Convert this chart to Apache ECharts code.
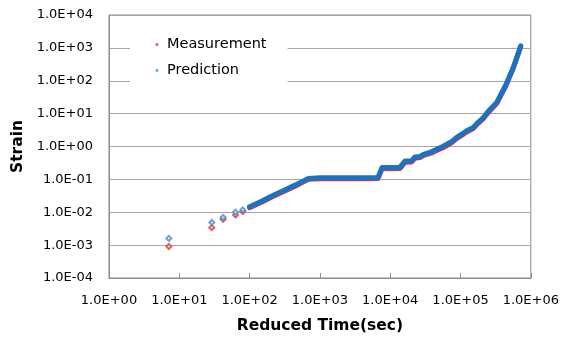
<!DOCTYPE html>
<html>
<head>
<meta charset="utf-8">
<script src="https://cdn.jsdelivr.net/npm/echarts@6/dist/echarts.min.js"></script>
<style>
  html, body { margin: 0; padding: 0; background: #fff; }
  #chart { width: 562px; height: 341px; }
</style>
</head>
<body>
<div id="chart"></div>
<script>
// Early, sparsely sampled points (reduced time in seconds)
const sparseTime = [7.1, 29, 42, 63, 80];
const measSparse = [0.00091, 0.0034, 0.0061, 0.0082, 0.0105];
const predSparse = [0.0016, 0.0049, 0.0070, 0.0100, 0.0118];

// Densely sampled part of the creep curve
const denseTime = [100, 150, 200, 300, 450, 684, 1000, 2000, 4000, 6700, 7640,
  13800, 16200, 20200, 22500, 26500, 30000, 38000, 46000, 55000, 64000, 76000,
  88000, 105000, 122000, 152000, 170000, 211000, 250000, 327000, 440000, 564000, 718000];
const predDense = [0.0148, 0.022, 0.030, 0.045, 0.068, 0.107, 0.112, 0.113, 0.113, 0.115, 0.23,
  0.235, 0.36, 0.37, 0.48, 0.50, 0.58, 0.68, 0.83, 0.98, 1.17, 1.45,
  1.9, 2.4, 3.0, 3.8, 5.0, 7.6, 12, 22, 75, 260, 1150];
const measDense = [0.0138, 0.0205, 0.028, 0.042, 0.063, 0.100, 0.104, 0.105, 0.105, 0.106, 0.21,
  0.216, 0.33, 0.34, 0.44, 0.46, 0.535, 0.625, 0.76, 0.90, 1.07, 1.33,
  1.74, 2.2, 2.75, 3.5, 4.6, 7.0, 11, 20.2, 69, 240, 1060];

// Tick labels, indexed by decade
const yTickLabels = ['1.0E-04', '1.0E-03', '1.0E-02', '1.0E-01', '1.0E+00', '1.0E+01', '1.0E+02', '1.0E+03', '1.0E+04'];
const xTickLabels = ['1.0E+00', '1.0E+01', '1.0E+02', '1.0E+03', '1.0E+04', '1.0E+05', '1.0E+06'];

const RED = '#e03434';
const BLUE = '#1a72c4';
const BLUE_MARK = '#3d8ad6';
const FONT = 'DejaVu Sans';

const zip = (xs, ys) => xs.map((x, i) => [x, ys[i]]);

const chart = echarts.init(document.getElementById('chart'), null, { renderer: 'canvas' });
chart.setOption({
  animation: false,
  backgroundColor: '#fff',
  grid: {
    left: 109, right: 31, top: 15, bottom: 63,
    show: true, borderColor: '#8c8c8c', borderWidth: 1, backgroundColor: 'transparent'
  },
  legend: {
    orient: 'vertical',
    left: 130, top: 33,
    padding: [4, 21, 6, 25],
    itemGap: 11,
    itemWidth: 4, itemHeight: 4,
    backgroundColor: '#fff',
    textStyle: { fontFamily: FONT, fontSize: 14.5, color: '#000', padding: [0, 0, 0, 3] },
    data: [
      { name: 'Measurement', icon: 'diamond', itemStyle: { color: '#e46a6a' } },
      { name: 'Prediction', icon: 'diamond', itemStyle: { color: '#6fa9e0' } }
    ]
  },
  xAxis: {
    type: 'log', logBase: 10, min: 1, max: 1e6, splitNumber: 6,
    name: 'Reduced Time(sec)', nameLocation: 'middle', nameGap: 40,
    nameTextStyle: { fontFamily: FONT, fontSize: 15.5, fontWeight: 'bold', color: '#000' },
    axisLine: { lineStyle: { color: '#8c8c8c', width: 1 } },
    axisTick: { show: true, inside: true, length: 5, lineStyle: { color: '#8c8c8c' } },
    minorTick: { show: false },
    splitLine: { show: false },
    axisLabel: {
      margin: 16, fontFamily: FONT, fontSize: 13, color: '#000',
      formatter: v => xTickLabels[Math.round(Math.log10(v))]
    }
  },
  yAxis: {
    type: 'log', logBase: 10, min: 1e-4, max: 1e4, splitNumber: 8,
    name: 'Strain', nameLocation: 'middle', nameGap: 82, nameRotate: 90,
    nameTextStyle: { fontFamily: FONT, fontSize: 15.5, fontWeight: 'bold', color: '#000' },
    axisLine: { show: true, lineStyle: { color: '#8c8c8c', width: 1 } },
    axisTick: { show: false },
    minorTick: { show: false },
    splitLine: { show: true, lineStyle: { color: '#a6a6a6', width: 1 } },
    axisLabel: {
      margin: 16, fontFamily: FONT, fontSize: 13, color: '#000',
      formatter: v => yTickLabels[Math.round(Math.log10(v)) + 4]
    }
  },
  series: [
    {
      name: 'Measurement', type: 'line', data: zip(denseTime, measDense),
      showSymbol: false, lineStyle: { color: RED, width: 5, cap: 'round', join: 'round' },
      itemStyle: { color: RED }, z: 2
    },
    {
      name: 'Prediction', type: 'line', data: zip(denseTime, predDense),
      showSymbol: false, lineStyle: { color: BLUE, width: 5, cap: 'round', join: 'round' },
      itemStyle: { color: BLUE }, z: 3
    },
    {
      name: 'Measurement', type: 'scatter', data: zip(sparseTime, measSparse),
      symbol: 'emptyDiamond', symbolSize: 5,
      itemStyle: { color: RED, borderColor: RED, borderWidth: 1.5 }, z: 4
    },
    {
      name: 'Prediction', type: 'scatter', data: zip(sparseTime, predSparse),
      symbol: 'emptyDiamond', symbolSize: 5,
      itemStyle: { color: BLUE_MARK, borderColor: BLUE_MARK, borderWidth: 1.5 }, z: 4
    }
  ]
});
</script>
</body>
</html>
